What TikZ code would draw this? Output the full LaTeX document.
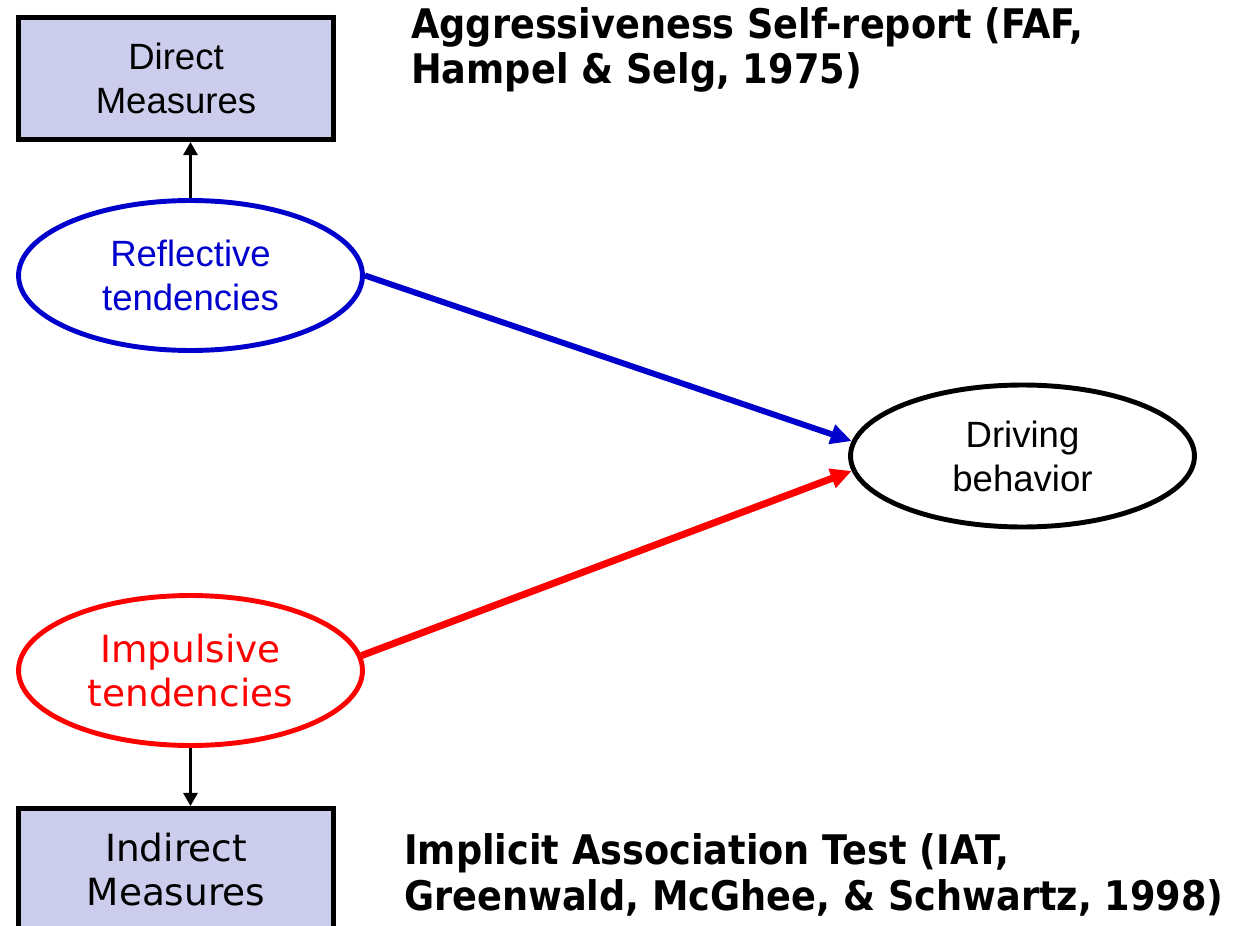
\documentclass[tikz,border=0pt]{standalone}
\usepackage{fontspec}
\setmainfont{Liberation Sans}
\newfontfamily\verdfont{DejaVu Sans}
\newfontfamily\refsfont[FakeStretch=0.9]{DejaVu Sans}
\usetikzlibrary{arrows.meta,positioning,shapes.geometric}
\definecolor{cBOX}{HTML}{CCCCEC}
\definecolor{cBLU}{HTML}{0000CC}
\definecolor{cRED}{HTML}{FF0000}

\begin{document}
\begin{tikzpicture}[x=0.02cm, y=-0.02cm,
  meas/.style={draw, line width=2.8pt, fill=cBOX, minimum width=6.31cm, minimum height=2.44cm, align=center},
  tend/.style={ellipse, draw, line width=2.8pt, fill=white, minimum width=6.88cm, minimum height=3cm, align=center},
  refs/.style={anchor=base west, align=left, font=\refsfont\bfseries\fontsize{23.2}{26}\selectfont},
  link/.style={line width=1.7pt, -{Triangle[length=7.5pt, width=8pt]}}]
\useasboundingbox (0,0) rectangle (1238,926);
\clip (0,0) rectangle (1238,926);
\node[meas, font=\fontsize{20.8}{25}\selectfont] (direct) at (176,78.5) {Direct\\ Measures};
\node[meas, font=\verdfont\fontsize{21.3}{25}\selectfont] (indirect) at (176,869.5) {Indirect\\ Measures};
\node[tend, draw=cBLU, text=cBLU, font=\fontsize{20.8}{25}\selectfont] (refl) at (190.5,275.5) {Reflective\\ tendencies};
\node[tend, draw=cRED, text=cRED, font=\verdfont\fontsize{21.3}{25}\selectfont] (imp) at (190.5,670.5) {Impulsive\\ tendencies};
\node[tend, minimum height=2.84cm, font=\fontsize{20.8}{25}\selectfont] (drive) at (1022.5,456) {Driving\\ behavior};
% reference labels, anchored at the baseline of their last line
\node[refs] (selfrep) at (405,84) {Aggressiveness Self-report (FAF,\\ Hampel \& Selg, 1975)};
\node[refs] (iat) at (398,910) {Implicit Association Test (IAT,\\ Greenwald, McGhee, \& Schwartz, 1998)};
\draw[link] (refl.north) -- (refl.north |- direct.south);
\draw[link] (imp.south) -- (imp.south |- indirect.north);
\draw[cBLU, line width=3.4pt, -{Triangle[length=12pt, width=11pt]}] (refl.east) -- (drive.175);
\draw[cRED, line width=4pt, -{Triangle[length=12pt, width=11pt]}] (imp.5) -- (drive.185);
\end{tikzpicture}
\end{document}
